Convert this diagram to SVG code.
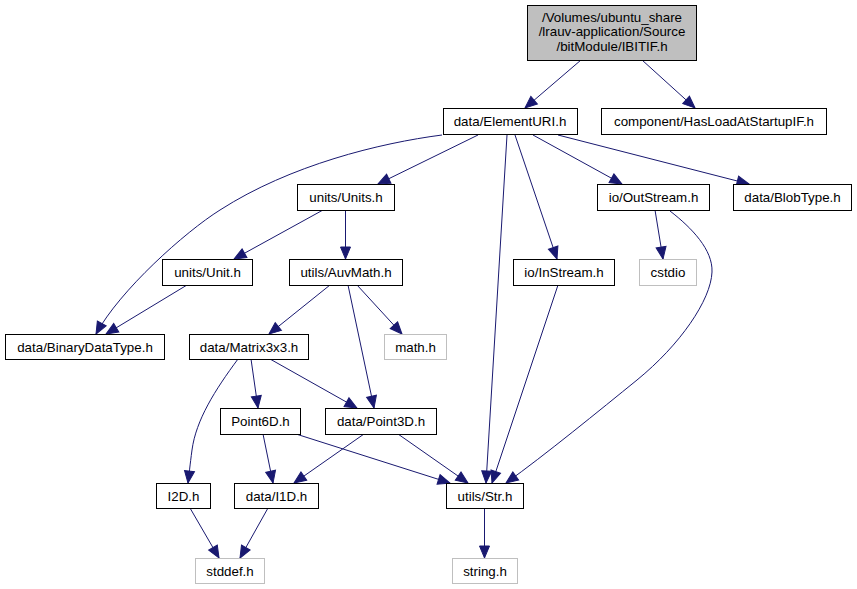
<svg xmlns="http://www.w3.org/2000/svg" width="857" height="589" viewBox="0 0 857 589">
<style>
text{font-family:"Liberation Sans",Arial,Helvetica,sans-serif;font-size:13.33px;fill:#000;text-anchor:middle}
.n rect{fill:#fff;stroke:#000;stroke-width:1}
.s rect{fill:#fff;stroke:#bfbfbf;stroke-width:1}
.r rect{fill:#bfbfbf;stroke:#000;stroke-width:1}
#edges path{fill:none;stroke:#191970;stroke-width:1;marker-end:url(#a)}
</style>
<defs>
<marker id="a" markerWidth="12" markerHeight="10" refX="12" refY="5" orient="auto" markerUnits="userSpaceOnUse" overflow="visible">
<path d="M0,0 L12,5 L0,10 z" fill="#191970" stroke="#191970" stroke-width="1"/>
</marker>
</defs>
<rect width="857" height="589" fill="#fff"/>
<g id="edges">
<path d="M581,60 L525,108"/>
<path d="M642,60 L695,108"/>
<path d="M478,135 L378,184"/>
<path d="M442,135 C380,143 290,165 220,210 C185,232 120,290 96,334"/>
<path d="M507,135 L486,483"/>
<path d="M515,135 L557,259"/>
<path d="M533,135 L622,184"/>
<path d="M558,135 L749,184"/>
<path d="M323,210 L234,259"/>
<path d="M345.5,210 L345.5,259"/>
<path d="M187,285 L106,334"/>
<path d="M330,285 L269,334"/>
<path d="M357,285 L402,334"/>
<path d="M348,285 L374,408"/>
<path d="M238,359 C215,390 196,420 192,450 C190,465 189,475 188,483"/>
<path d="M251,359 L258,408"/>
<path d="M270,359 L357,408"/>
<path d="M263,434 L273,483"/>
<path d="M296,434 L450,483"/>
<path d="M364,434 L294,483"/>
<path d="M398,434 L468,483"/>
<path d="M558,285 L492,483"/>
<path d="M655,210 L663,259"/>
<path d="M670,211 C692,228 713,250 712,272 C711,300 680,345 637,380 C600,410 545,455 506,483"/>
<path d="M484.5,508 L484.5,558"/>
<path d="M190,508 L219,558"/>
<path d="M268,508 L240,558"/>
</g>
<g id="n0" class="r"><rect x="527.5" y="5.5" width="169" height="55"/><text x="612" y="21.5">/Volumes/ubuntu_share</text><text x="612" y="36">/lrauv-application/Source</text><text x="612" y="50.5">/bitModule/IBITIF.h</text></g>
<g id="n1" class="n"><rect x="443.5" y="108.5" width="134" height="26"/><text x="510" y="126">data/ElementURI.h</text></g>
<g id="n2" class="n"><rect x="601.5" y="108.5" width="225" height="26"/><text x="714" y="126">component/HasLoadAtStartupIF.h</text></g>
<g id="n3" class="n"><rect x="297.5" y="184.5" width="97" height="26"/><text x="346" y="202">units/Units.h</text></g>
<g id="n4" class="n"><rect x="597.5" y="184.5" width="112" height="26"/><text x="653.5" y="202">io/OutStream.h</text></g>
<g id="n5" class="n"><rect x="733.5" y="184.5" width="118" height="26"/><text x="792.5" y="202">data/BlobType.h</text></g>
<g id="n6" class="n"><rect x="162.5" y="259.5" width="90" height="26"/><text x="207.5" y="277">units/Unit.h</text></g>
<g id="n7" class="n"><rect x="289.5" y="259.5" width="113" height="26"/><text x="346" y="277">utils/AuvMath.h</text></g>
<g id="n8" class="n"><rect x="513.5" y="259.5" width="101" height="26"/><text x="564" y="277">io/InStream.h</text></g>
<g id="n9" class="s"><rect x="639.5" y="259.5" width="57" height="26"/><text x="668" y="277">cstdio</text></g>
<g id="n10" class="n"><rect x="5.5" y="334.5" width="159" height="25"/><text x="85" y="351.5">data/BinaryDataType.h</text></g>
<g id="n11" class="n"><rect x="189.5" y="334.5" width="119" height="25"/><text x="249" y="351.5">data/Matrix3x3.h</text></g>
<g id="n12" class="s"><rect x="384.5" y="334.5" width="62" height="25"/><text x="415.5" y="351.5">math.h</text></g>
<g id="n13" class="n"><rect x="220.5" y="408.5" width="80" height="26"/><text x="260.5" y="426">Point6D.h</text></g>
<g id="n14" class="n"><rect x="325.5" y="408.5" width="111" height="26"/><text x="381" y="426">data/Point3D.h</text></g>
<g id="n15" class="n"><rect x="156.5" y="483.5" width="54" height="25"/><text x="183.5" y="500.5">I2D.h</text></g>
<g id="n16" class="n"><rect x="234.5" y="483.5" width="84" height="25"/><text x="276.5" y="500.5">data/I1D.h</text></g>
<g id="n17" class="n"><rect x="446.5" y="483.5" width="77" height="25"/><text x="485" y="500.5">utils/Str.h</text></g>
<g id="n18" class="s"><rect x="195.5" y="558.5" width="69" height="25"/><text x="230" y="575.5">stddef.h</text></g>
<g id="n19" class="s"><rect x="452.5" y="558.5" width="65" height="25"/><text x="485" y="575.5">string.h</text></g>
</svg>
